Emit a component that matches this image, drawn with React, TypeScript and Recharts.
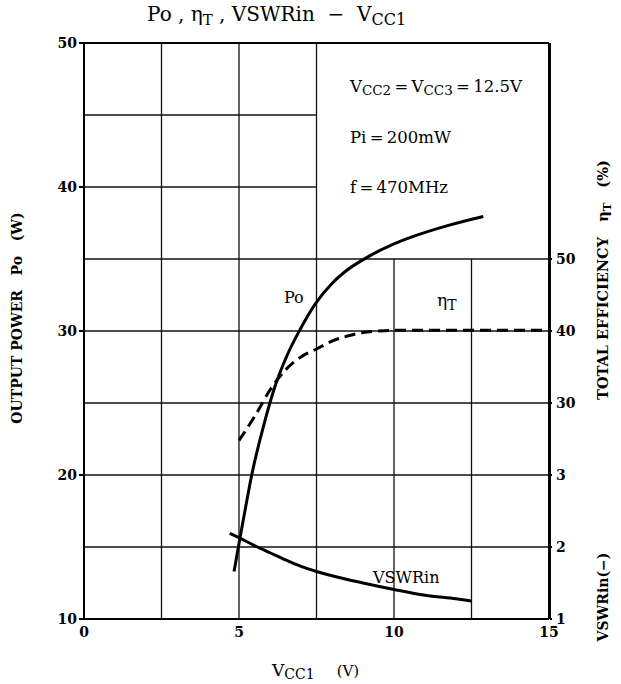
import { LineChart, Line, XAxis, YAxis, ReferenceLine } from "recharts"

// Po (W) vs VCC1 (V)
const poVcc = [4.84, 5.03, 5.2, 5.41, 5.78, 6.2, 6.55, 6.97, 7.5, 8.0, 8.5, 9.2, 10.0, 10.6, 11.7, 12.88]
const poW = [13.3, 15.6, 17.6, 20.0, 23.3, 26.4, 28.3, 30.1, 32.0, 33.3, 34.25, 35.2, 36.05, 36.55, 37.3, 37.95]

// total efficiency (%) vs VCC1
const effVcc = [5.0, 5.5, 6.0, 6.5, 7.0, 7.5, 8.0, 8.5, 9.0, 9.5, 10, 12, 15]
const effPct = [24.8, 28.1, 31.8, 34.6, 36.4, 37.5, 38.6, 39.3, 39.8, 40.0, 40.1, 40.1, 40.1]

// VSWRin vs VCC1
const vswrVcc = [4.7, 5.0, 5.5, 6.0, 6.5, 7.0, 7.5, 8.0, 9.0, 10, 11, 12, 12.5]
const vswr = [2.19, 2.13, 2.02, 1.92, 1.82, 1.73, 1.66, 1.6, 1.5, 1.41, 1.33, 1.28, 1.25]

const xTicks = [0, 5, 10, 15]
const poTicks = [10, 20, 30, 40, 50]
const effTicks = [30, 40, 50]
const vswrTicks = [1, 2, 3]

const poData = poVcc.map((v, i) => ({ v, po: poW[i] }))
const effData = effVcc.map((v, i) => ({ v, eff: effPct[i] }))
const vswrData = vswrVcc.map((v, i) => ({ v, vswr: vswr[i] }))

const font = "'DejaVu Serif', 'Liberation Serif', serif"
const tickStyle = { fontSize: 14, fontWeight: 700, fill: "#000", fontFamily: font }
const eq = "\u2009=\u2009"
const sp = "\u00a0\u00a0\u00a0"

export default function App() {
  return (
    <div style={{ position: "absolute", left: 0, top: 0, width: 621, height: 684, background: "#fff" }}>
      <LineChart width={621} height={684} margin={{ top: 43, right: 0, bottom: 0, left: 0 }}>
        <XAxis
          type="number"
          dataKey="v"
          domain={[0, 15]}
          ticks={xTicks}
          tickLine={false}
          stroke="#000"
          strokeWidth={2}
          tick={tickStyle}
          height={65}
        />
        <YAxis
          yAxisId="po"
          domain={[10, 50]}
          ticks={poTicks}
          width={84}
          stroke="#000"
          strokeWidth={2}
          tickSize={5}
          tickMargin={2}
          tick={tickStyle}
        />
        <YAxis
          yAxisId="eff"
          orientation="right"
          domain={[0, 80]}
          ticks={effTicks}
          width={1}
          stroke="#000"
          strokeWidth={2}
          tickSize={3}
          tickMargin={4}
          tick={tickStyle}
        />
        <YAxis
          yAxisId="vswr"
          orientation="right"
          domain={[1, 9]}
          ticks={vswrTicks}
          width={71}
          stroke="#000"
          strokeWidth={2}
          tickSize={2}
          tickMargin={4}
          tick={tickStyle}
        />

        {/* grid */}
        {[2.5, 5, 7.5].map((x) => (
          <ReferenceLine key={"vx" + x} yAxisId="po" segment={[{ x, y: 10 }, { x, y: 50 }]} stroke="#111" strokeWidth={1.3} />
        ))}
        {[10, 12.5].map((x) => (
          <ReferenceLine key={"vp" + x} yAxisId="po" segment={[{ x, y: 10 }, { x, y: 35 }]} stroke="#111" strokeWidth={1.3} />
        ))}
        {[15, 20, 25, 30, 35].map((y) => (
          <ReferenceLine key={"hy" + y} yAxisId="po" segment={[{ x: 0, y }, { x: 15, y }]} stroke="#111" strokeWidth={1.3} />
        ))}
        {[40, 45].map((y) => (
          <ReferenceLine key={"hp" + y} yAxisId="po" segment={[{ x: 0, y }, { x: 7.5, y }]} stroke="#111" strokeWidth={1.3} />
        ))}
        <ReferenceLine yAxisId="po" segment={[{ x: 0, y: 50 }, { x: 15, y: 50 }]} stroke="#000" strokeWidth={2} />

        <Line yAxisId="po" data={poData} dataKey="po" type="monotone" stroke="#000" strokeWidth={3} dot={false} isAnimationActive={false} />
        <Line yAxisId="eff" data={effData} dataKey="eff" type="monotone" stroke="#000" strokeWidth={3} strokeDasharray="11 6" dot={false} isAnimationActive={false} />
        <Line yAxisId="vswr" data={vswrData} dataKey="vswr" type="monotone" stroke="#000" strokeWidth={3} dot={false} isAnimationActive={false} />
      </LineChart>

      <svg width={621} height={684} style={{ position: "absolute", left: 0, top: 0, pointerEvents: "none" }} fontFamily={font} fill="#000">
        <text x={147} y={21} fontSize={20}>
          Po , η<tspan fontSize={15} dy={4}>T</tspan><tspan dy={-4}>{" , VSWRin\u00a0\u00a0−\u00a0\u00a0V"}</tspan>
          <tspan fontSize={16} dy={4}>CC1</tspan>
        </text>

        <text x={350} y={92} fontSize={16.5}>
          V<tspan fontSize={13.5} dy={3}>CC2</tspan><tspan dy={-3}>{eq}V</tspan><tspan fontSize={13.5} dy={3}>CC3</tspan>
          <tspan dy={-3}>{eq}12.5V</tspan>
        </text>
        <text x={350} y={143} fontSize={16.5}>Pi{eq}200mW</text>
        <text x={350} y={193} fontSize={16.5}>f{eq}470MHz</text>
        <text x={284} y={303} fontSize={16}>Po</text>
        <text x={437} y={306} fontSize={17}>
          η<tspan fontSize={14} dy={4}>T</tspan>
        </text>
        <text x={373} y={583} fontSize={16}>VSWRin</text>

        <text x={272} y={676} fontSize={17}>
          V<tspan fontSize={14} dy={3}>CC1</tspan><tspan dy={-3} dx={22} fontSize={15}>(V)</tspan>
        </text>

        <text transform="translate(22,318) rotate(-90)" fontSize={14} fontWeight={700} textAnchor="middle">
          {`OUTPUT POWER${sp}Po${sp}(W)`}
        </text>
        <text transform="translate(608,280) rotate(-90)" fontSize={14.5} fontWeight={700} textAnchor="middle">
          {`TOTAL EFFICIENCY${sp}η`}<tspan fontSize={11.5} dy={3}>T</tspan><tspan dy={-3}>{`${sp}(%)`}</tspan>
        </text>
        <text transform="translate(608,597) rotate(-90)" fontSize={14} fontWeight={700} textAnchor="middle">
          VSWRin(−)
        </text>
      </svg>
    </div>
  )
}
